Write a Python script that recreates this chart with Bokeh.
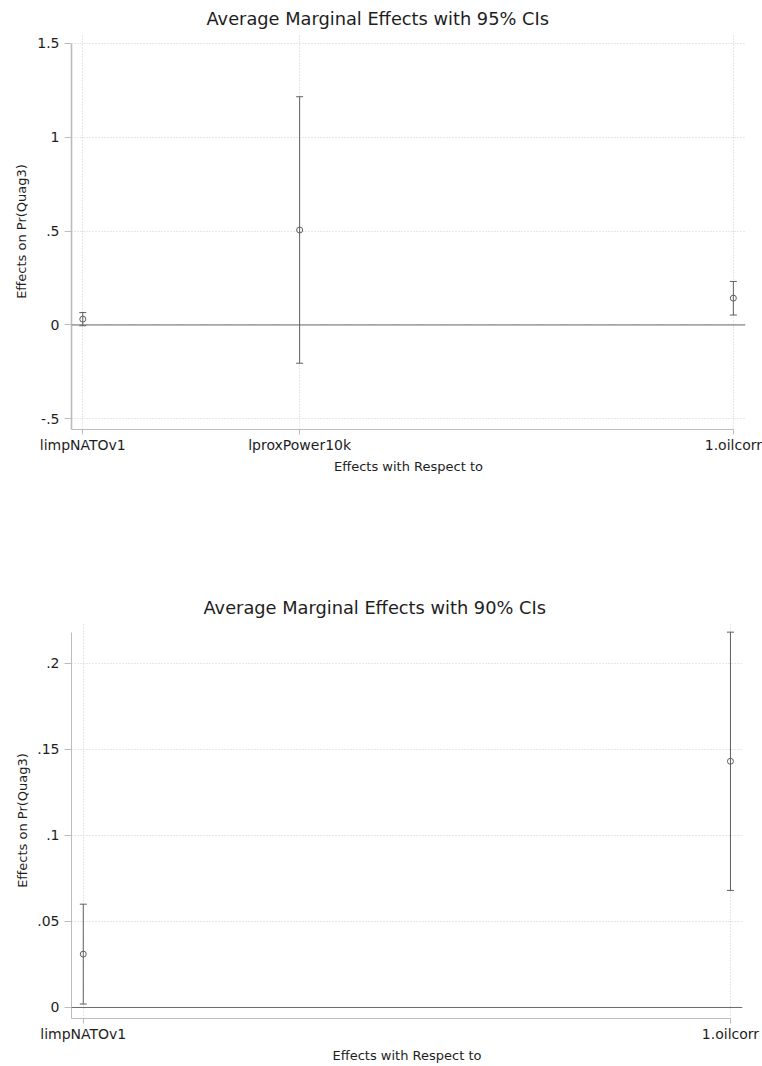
from bokeh.plotting import figure
from bokeh.models import (ColumnDataSource, Whisker, TeeHead, Span, FixedTicker, Range1d)
from bokeh.layouts import column
from bokeh.embed import file_html
from bokeh.resources import INLINE

# ---------------- data ----------------
# Chart 1: 95% CIs
cats1 = ["limpNATOv1", "lproxPower10k", "1.oilcorr"]
pos1 = [1, 2, 4]
est1 = [0.031, 0.506, 0.143]
lo1 = [-0.004, -0.204, 0.053]
hi1 = [0.066, 1.216, 0.232]
yticks1 = [-0.5, 0, 0.5, 1, 1.5]
ylabels1 = ["-.5", "0", ".5", "1", "1.5"]

# Chart 2: 90% CIs
cats2 = ["limpNATOv1", "1.oilcorr"]
pos2 = [1, 2]
est2 = [0.031, 0.143]
lo2 = [0.002, 0.068]
hi2 = [0.060, 0.218]
yticks2 = [0, 0.05, 0.1, 0.15, 0.2]
ylabels2 = ["0", ".05", ".1", ".15", ".2"]

FONT = "DejaVu Sans"
AXIS_COL = "#bcbcbc"
GRID_COL = "#cfcfcf"
MARK_COL = "#5f5f5f"
TEXT_COL = "#1e1e1e"


def make_chart(title, cats, pos, est, lo, hi, yticks, ylabels,
               xr, yr, ybounds_top, bottom, left, title_offset, yaxis_w, lab_standoff):
    p = figure(frame_width=742 - left, frame_height=396,
               output_backend="svg", toolbar_location=None,
               x_range=Range1d(*xr), y_range=Range1d(*yr),
               min_border_left=left, min_border_right=20, min_border_top=33,
               min_border_bottom=bottom)
    p.outline_line_color = None
    p.background_fill_color = "white"
    p.border_fill_color = "white"

    p.title.text = title
    p.title.text_font = FONT
    p.title.text_font_size = "17.8px"
    p.title.text_font_style = "normal"
    p.title.text_color = TEXT_COL
    p.title.align = "left"
    p.title.offset = title_offset
    p.title.standoff = 10

    # axes
    p.xaxis.ticker = FixedTicker(ticks=pos)
    p.xaxis.major_label_overrides = {v: c for v, c in zip(pos, cats)}
    p.yaxis.ticker = FixedTicker(ticks=yticks)
    p.yaxis.major_label_overrides = {v: l for v, l in zip(yticks, ylabels)}
    p.xaxis.minor_tick_line_color = None
    p.yaxis.minor_tick_line_color = None
    p.xaxis.bounds = (xr[0], pos[-1])
    p.yaxis.bounds = (yr[0], ybounds_top)

    for ax in (p.xaxis[0], p.yaxis[0]):
        ax.axis_line_color = AXIS_COL
        ax.major_tick_line_color = AXIS_COL
        ax.major_tick_in = 0
        ax.major_label_text_font = FONT
        ax.major_label_text_font_size = "14px"
        ax.major_label_text_color = TEXT_COL
        ax.axis_label_text_font = FONT
        ax.axis_label_text_font_size = "13px"
        ax.axis_label_text_font_style = "normal"
        ax.axis_label_text_color = TEXT_COL
    p.yaxis.axis_line_width = yaxis_w
    p.xaxis.major_tick_out = 5
    p.yaxis.major_tick_out = 7
    p.xaxis.major_label_standoff = 2
    p.yaxis.major_label_standoff = 5
    p.yaxis.major_label_orientation = "horizontal"
    p.xaxis.axis_label = "Effects with Respect to"
    p.yaxis.axis_label = "Effects on Pr(Quag3)"
    p.xaxis.axis_label_standoff = 3
    p.yaxis.axis_label_standoff = lab_standoff

    # grids
    p.xgrid.ticker = FixedTicker(ticks=pos)
    p.ygrid.ticker = FixedTicker(ticks=yticks)
    for g in (p.xgrid[0], p.ygrid[0]):
        g.grid_line_color = GRID_COL
        g.grid_line_dash = "1 2"
        g.grid_line_width = 1

    # zero line
    p.add_layout(Span(location=0, dimension="width", line_color="#6a6a6a", line_width=1))

    src = ColumnDataSource(dict(x=pos, y=est, lo=lo, hi=hi))
    w = Whisker(base="x", upper="hi", lower="lo", source=src, dimension="height",
                line_color=MARK_COL, line_width=1,
                upper_head=TeeHead(size=7, line_color=MARK_COL, line_width=1),
                lower_head=TeeHead(size=7, line_color=MARK_COL, line_width=1))
    p.add_layout(w)
    p.scatter("x", "y", source=src, marker="circle", size=6, fill_color=None,
              line_color=MARK_COL, line_width=1)
    return p


p1 = make_chart("Average Marginal Effects with 95% CIs", cats1, pos1, est1, lo1, hi1,
                yticks1, ylabels1, (0.948, 4.056), (-0.557, 1.553), 1.5,
                160, 68, 135, 1.6, 5)
p2 = make_chart("Average Marginal Effects with 90% CIs", cats2, pos2, est2, lo2, hi2,
                yticks2, ylabels2, (0.9818, 2.0186), (-0.0064, 0.2236), 0.2176,
                48, 71, 132, 1.0, 4)

layout = column(p1, p2, spacing=0)
open("out.html", "w").write(file_html(layout, INLINE))
